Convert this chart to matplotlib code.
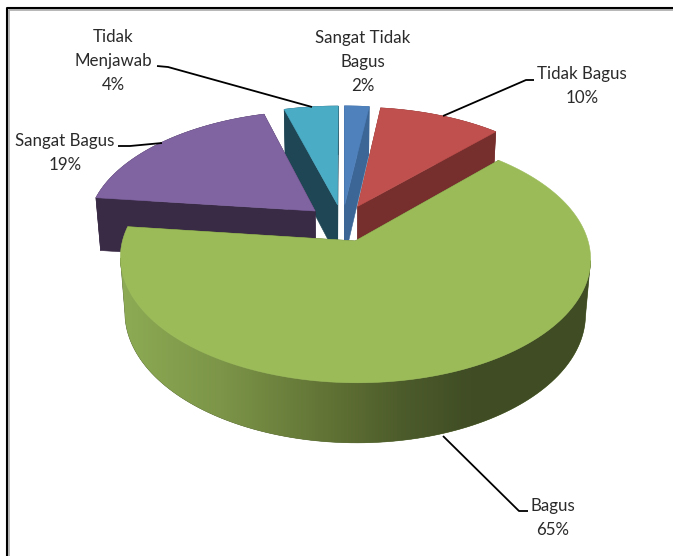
import numpy as np
import matplotlib
matplotlib.use('Agg')
import matplotlib.pyplot as plt
from matplotlib.colors import to_rgb
from matplotlib.patches import Polygon

# data (slices, labels show them rounded)
labels = ['Sangat Tidak\nBagus', 'Tidak Bagus', 'Bagus', 'Sangat Bagus', 'Tidak\nMenjawab']
values = [2, 10, 64.9, 18.7, 4.4]

top_colors = ['#4F81BD', '#C0504D', '#9BBB59', '#8064A2', '#4BACC6']
side_colors = ['#3C6696', '#772F2E', '#4F6129', '#392A45', '#1F4654']
# green rim shading, light on the left to dark on the right
rim_x = [120, 220, 340, 400, 470, 590]
rim_colors = ['#8DAB54', '#7C9548', '#5E6F33', '#4D5C2B', '#404D25', '#3F4C24']

# where the labels and leader lines sit (pixels)
label_pos = [(363, 62), (582, 86), (553, 518), (65, 153), (113, 61)]
leaders = [
    None,
    [(443, 116), (526, 80), (534, 80)],
    [(443, 436), (519, 511), (528, 511)],
    [(162, 143), (130, 146), (118, 146)],
    [(312, 107), (168, 67), (157, 66)],
]

# rough camera for the fake 3d pie
cx, cy = 342.5, 223
scale_x, scale_y = 228, 117
persp = 0.137
depth = 55
depth_persp = 0.02
explode = 0.16


def project(x, y, z):
    w = 1 + persp * y + depth_persp * z
    return cx + scale_x * x / w, cy + (-scale_y * y + depth * z) / w


def rim_point(ox, oy, t, z):
    return project(ox + np.sin(t), oy + np.cos(t), z)


fig = plt.figure(figsize=(6.73, 5.56), dpi=100)
ax = fig.add_axes([0, 0, 1, 1])

zorder = 1


def poly(pts, color):
    global zorder
    zorder += 1
    p = Polygon(pts, closed=True, facecolor=color, edgecolor=color, linewidth=0.4, zorder=zorder)
    ax.add_patch(p)
    return p


# slice angles, clockwise from the top
shares = np.array(values) / sum(values)
ends = np.cumsum(shares) * 2 * np.pi
starts = ends - shares * 2 * np.pi
mids = (starts + ends) / 2

# horizontal gradient for the big rim
grad_x = np.arange(0, 673)
grad = np.array([np.interp(grad_x, rim_x, [to_rgb(c)[k] for c in rim_colors]) for k in range(3)]).T
grad = grad[np.newaxis, :, :]

# paint back to front
order = np.argsort(-np.cos(mids))
for i in order:
    ox, oy = explode * np.sin(mids[i]), explode * np.cos(mids[i])
    ts = np.linspace(starts[i], ends[i], 160)
    apex_top, apex_bot = project(ox, oy, 0), project(ox, oy, 1)
    big = values[i] == max(values)

    # radial walls
    for t in (starts[i], ends[i]):
        poly([apex_top, rim_point(ox, oy, t, 0), rim_point(ox, oy, t, 1), apex_bot], side_colors[i])

    # outer wall, for the big slice only the part between the left and right extremes
    wall_ts = ts
    if big:
        top_x = [rim_point(ox, oy, t, 0)[0] for t in ts]
        wall_ts = ts[int(np.argmax(top_x)):int(np.argmin(top_x)) + 1]
    wall = [rim_point(ox, oy, t, 0) for t in wall_ts] + [rim_point(ox, oy, t, 1) for t in wall_ts[::-1]]
    p = poly(wall, side_colors[i])
    if big:
        zorder += 1
        im = ax.imshow(grad, extent=(0, 673, 556, 0), aspect='auto', zorder=zorder)
        im.set_clip_path(p)

    # top face
    poly([apex_top] + [rim_point(ox, oy, t, 0) for t in ts], top_colors[i])

# leader lines and labels
for i, lab in enumerate(labels):
    if leaders[i]:
        xs, ys = zip(*leaders[i])
        ax.plot(xs, ys, color='black', lw=1.3, solid_capstyle='butt', zorder=zorder + 1)
    ax.text(label_pos[i][0], label_pos[i][1], f'{lab}\n{round(values[i])}%', ha='center', va='center',
            family='Lato', fontsize=12.2, color='#2A2A2A', linespacing=1.62, zorder=zorder + 2)

# picture frame
ax.plot([9, 9, 673], [556, 10, 10], color='#AAAAAA', lw=1.2, solid_capstyle='butt', zorder=zorder + 1)
ax.plot([7, 7, 673], [556, 8.3, 8.3], color='black', lw=1.5, solid_capstyle='butt', zorder=zorder + 2)

ax.set_xlim(0, 673)
ax.set_ylim(556, 0)
ax.axis('off')

plt.savefig('out.png', dpi=100)
